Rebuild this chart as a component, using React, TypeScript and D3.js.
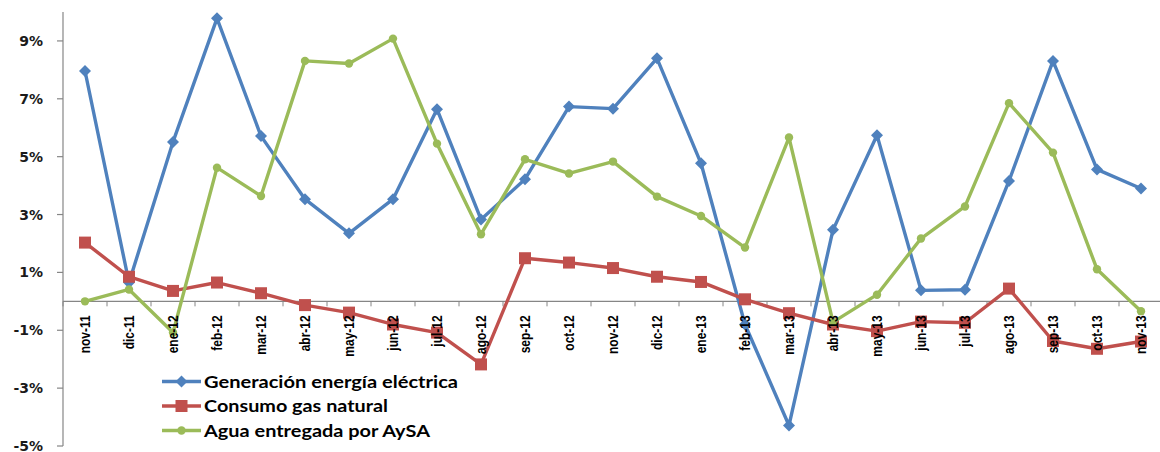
import * as d3 from "d3";

const months = [
  "nov-11", "dic-11", "ene-12", "feb-12", "mar-12", "abr-12", "may-12", "jun-12", "jul-12",
  "ago-12", "sep-12", "oct-12", "nov-12", "dic-12", "ene-13", "feb-13", "mar-13", "abr-13",
  "may-13", "jun-13", "jul-13", "ago-13", "sep-13", "oct-13", "nov-13",
];

const generacion = [
  7.96, 0.65, 5.51, 9.78, 5.71, 3.53, 2.35, 3.53, 6.64, 2.83, 4.22, 6.73, 6.66,
  8.4, 4.77, -0.8, -4.29, 2.47, 5.74, 0.38, 0.4, 4.16, 8.31, 4.56, 3.9,
];
const gas = [
  2.03, 0.85, 0.36, 0.65, 0.28, -0.13, -0.39, -0.8, -1.08, -2.18, 1.49, 1.34, 1.15,
  0.85, 0.67, 0.07, -0.41, -0.8, -1.03, -0.7, -0.74, 0.44, -1.37, -1.64, -1.39,
];
const agua = [
  0.0, 0.41, -1.08, 4.62, 3.64, 8.31, 8.22, 9.08, 5.45, 2.32, 4.91, 4.42, 4.83,
  3.62, 2.95, 1.86, 5.66, -0.72, 0.23, 2.17, 3.28, 6.85, 5.14, 1.11, -0.34,
];
const yTicks = [9, 7, 5, 3, 1, -1, -3, -5];

const seriesNames = ["Generación energía eléctrica", "Consumo gas natural", "Agua entregada por AySA"];
const seriesColors = ["#4F81BD", "#C0504D", "#9BBB59"];
const seriesShapes = ["diamond", "square", "circle"];

const W = 1160, H = 452;
const left = 63, right = 1163, top = 12, bottom = 446;
// legend text widths measured on the reference (the original font is wider)
const legendWidths = [254, 184, 226];

function Marker({ shape, x, y, color }: { shape: string; x: number; y: number; color: string }) {
  if (shape === "diamond") {
    return <path d={`M${x},${y - 6}L${x + 6},${y}L${x},${y + 6}L${x - 6},${y}Z`} fill={color} />;
  }
  if (shape === "square") {
    return <rect x={x - 6} y={y - 6} width={12} height={12} fill={color} />;
  }
  return <circle cx={x} cy={y} r={4.2} fill={color} />;
}

export default function App() {
  const x = d3.scaleBand<string>().domain(months).range([left, right]);
  const y = d3.scaleLinear().domain([-5, 10]).range([bottom, top]);
  const cx = (m: string) => (x(m) as number) + x.bandwidth() / 2;
  const y0 = y(0);
  const data = [generacion, gas, agua];

  const line = d3
    .line<number>()
    .x((_, i) => cx(months[i]))
    .y((d) => y(d));

  const axisColor = "#868686";

  return (
    <svg width={W} height={H} style={{ position: "absolute", left: 0, top: 0, background: "#fff" }}>
      {/* y axis */}
      <line x1={left} x2={left} y1={top} y2={bottom} stroke={axisColor} strokeWidth={1.2} />
      {yTicks.map((t) => (
        <g key={t}>
          <line x1={left - 6} x2={left} y1={y(t)} y2={y(t)} stroke={axisColor} strokeWidth={1.2} />
          <text
            x={43}
            y={y(t)}
            dy="0.36em"
            textAnchor="end"
            fontFamily="'DejaVu Sans', sans-serif"
            fontWeight="bold"
            fontSize={14}
            fill="#1a1a1a"
          >
            {t}%
          </text>
        </g>
      ))}

      {/* x axis at zero */}
      <line x1={left} x2={right} y1={y0} y2={y0} stroke={axisColor} strokeWidth={1.2} />
      {months.map((m) => (
        <line key={"t" + m} x1={x(m)} x2={x(m)} y1={y0} y2={y0 + 5} stroke={axisColor} strokeWidth={1} />
      ))}

      {/* series */}
      {data.map((vals, si) => (
        <g key={si}>
          <path d={line(vals) ?? ""} fill="none" stroke={seriesColors[si]} strokeWidth={3.4} strokeLinejoin="round" />
          {vals.map((v, i) => (
            <Marker key={i} shape={seriesShapes[si]} x={cx(months[i])} y={y(v)} color={seriesColors[si]} />
          ))}
        </g>
      ))}

      {/* category labels drawn over the lines */}
      {months.map((m) => (
        <text
          key={"l" + m}
          transform={`translate(${cx(m)},${y0 + 14}) rotate(-90) scale(0.8,1)`}
          dy="0.36em"
          textAnchor="end"
          fontFamily="'Liberation Sans', Arial, sans-serif"
          fontWeight="bold"
          fontSize={15}
          fill="#000"
        >
          {m}
        </text>
      ))}

      {/* legend */}
      {seriesNames.map((name, i) => {
        const ly = 381.5 + i * 24.5;
        return (
          <g key={name}>
            <line x1={162} x2={201} y1={ly} y2={ly} stroke={seriesColors[i]} strokeWidth={3.4} />
            <Marker shape={seriesShapes[i]} x={181.5} y={ly} color={seriesColors[i]} />
            <text
              x={204}
              y={ly}
              dy="0.36em"
              fontFamily="Lato, sans-serif"
              fontWeight="bold"
              fontSize={17}
              textLength={legendWidths[i]}
              lengthAdjust="spacingAndGlyphs"
              fill="#000"
            >
              {name}
            </text>
          </g>
        );
      })}
    </svg>
  );
}
